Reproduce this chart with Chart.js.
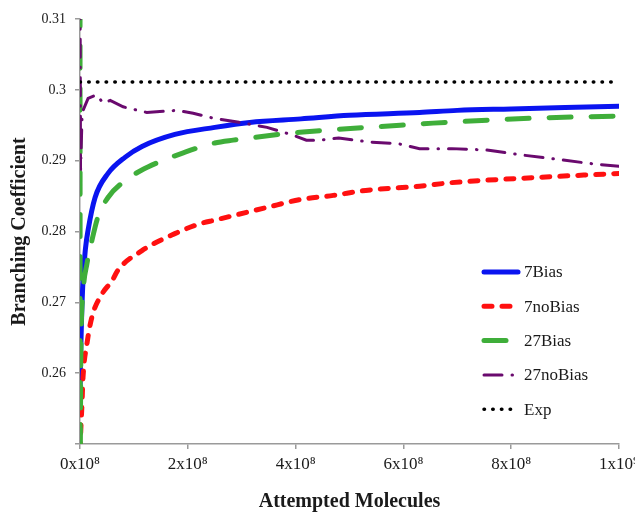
<!DOCTYPE html>
<html>
<head>
<meta charset="utf-8">
<script src="https://cdn.jsdelivr.net/npm/chart.js@4.4.1/dist/chart.umd.min.js"></script>
<style>
  html, body { margin: 0; padding: 0; background: #fff; }
  #wrap { width: 635px; height: 514px; }
</style>
</head>
<body>
<div id="wrap"><canvas id="chart"></canvas></div>
<script>
// Series values; x positions are in units of 1e8 attempted molecules
const labels = ['7Bias', '7noBias', '27Bias', '27noBias', 'Exp'];

const bias7X = [0, 0.01, 0.03, 0.056, 0.1, 0.15, 0.28, 0.52, 0.84, 1.15, 1.76, 2.5, 3.15, 4.1, 5, 6.3, 7, 8, 9, 10];
const bias7Y = [0.2568, 0.262, 0.268, 0.2731, 0.2775, 0.2802, 0.2848, 0.2882, 0.2905, 0.292, 0.2937, 0.2947, 0.2954, 0.2959, 0.2964, 0.2968, 0.2971, 0.2973, 0.2975, 0.2977];

const noBias7X = [0, 0.02, 0.037, 0.056, 0.13, 0.22, 0.41, 0.6, 0.7, 1.15, 1.76, 2.23, 2.5, 3.47, 4.08, 4.7, 5.3, 6.3, 6.9, 8.4, 10];
const noBias7Y = [0.249, 0.2529, 0.2557, 0.2594, 0.2642, 0.2679, 0.2712, 0.2731, 0.2745, 0.2773, 0.2797, 0.2811, 0.2816, 0.2834, 0.2845, 0.2851, 0.2858, 0.2864, 0.2869, 0.2876, 0.2882];

const bias27X = [0, 0.004, 0.015, 0.056, 0.13, 0.22, 0.33, 0.52, 0.84, 1.26, 1.95, 2.5, 2.84, 4.08, 5.94, 6.55, 8.4, 10];
const bias27Y = [0.318, 0.248, 0.262, 0.2712, 0.2755, 0.2787, 0.282, 0.2848, 0.2872, 0.2891, 0.2912, 0.2925, 0.2929, 0.294, 0.295, 0.2953, 0.296, 0.2963];

const noBias27X = [0, 0.01, 0.04, 0.15, 0.31, 0.43, 0.56, 0.8, 1.24, 1.8, 2.1, 2.47, 2.97, 3.47, 3.95, 4.2, 4.45, 4.8, 5.4, 5.9, 6.3, 6.9, 7.55, 8.2, 8.85, 9.46, 10];
const noBias27Y = [0.318, 0.2886, 0.2968, 0.2988, 0.2993, 0.2981, 0.2985, 0.2976, 0.2968, 0.2971, 0.2967, 0.296, 0.2954, 0.2947, 0.2936, 0.2929, 0.2929, 0.2932, 0.2926, 0.2924, 0.2917, 0.2917, 0.2915, 0.2908, 0.2902, 0.2896, 0.2892];

const expX = [0, 10];
const expY = [0.3011, 0.3011];

// y tick values shown on the axis
const yTicks = [0.26, 0.27, 0.28, 0.29, 0.3, 0.31];

function toPoints(xs, ys) {
    return xs.map((x, i) => ({ x: x * 1e8, y: ys[i] }));
}

// Draws the legend box inside the plot, bottom right
const insideLegend = {
    id: 'insideLegend',
    afterDraw(chart) {
        const ctx = chart.ctx;
        ctx.save();
        chart.data.datasets.forEach((ds, i) => {
            const y = 272 + i * 34.3;
            ctx.beginPath();
            ctx.strokeStyle = ds.borderColor;
            ctx.lineWidth = ds.borderWidth;
            ctx.lineCap = 'round';
            ctx.setLineDash(ds.borderDash || []);
            ctx.moveTo(484, y);
            ctx.lineTo(518, y);
            ctx.stroke();
            ctx.setLineDash([]);
            ctx.fillStyle = '#1a1a1a';
            ctx.font = '17px "Liberation Serif", "Times New Roman", serif';
            ctx.textBaseline = 'middle';
            ctx.fillText(ds.label, 524, y + 1);
        });
        ctx.restore();
    }
};

const common = { pointRadius: 0, fill: false, borderCapStyle: 'round' };

const chart = new Chart(document.getElementById('chart'), {
    type: 'line',
    data: {
        datasets: [
            { ...common, label: labels[0], data: toPoints(bias7X, bias7Y), borderColor: '#0a14f0', borderWidth: 5, cubicInterpolationMode: 'monotone', order: 4 },
            { ...common, label: labels[1], data: toPoints(noBias7X, noBias7Y), borderColor: '#ff1010', borderWidth: 5, borderDash: [8, 10], cubicInterpolationMode: 'monotone', order: 3 },
            { ...common, label: labels[2], data: toPoints(bias27X, bias27Y), borderColor: '#3fae3a', borderWidth: 5, borderDash: [22, 20], cubicInterpolationMode: 'monotone', order: 2 },
            { ...common, label: labels[3], data: toPoints(noBias27X, noBias27Y), borderColor: '#6a0a6e', borderWidth: 3, borderDash: [18, 10, 0.5, 10], tension: 0, order: 1 },
            { ...common, label: labels[4], data: toPoints(expX, expY), borderColor: '#000', borderWidth: 3.5, borderDash: [0.5, 8.2], tension: 0, order: 0 }
        ]
    },
    options: {
        responsive: true,
        maintainAspectRatio: false,
        animation: false,
        layout: { padding: { top: 19, right: 16, left: 0, bottom: 0 } },
        plugins: {
            legend: { display: false },
            tooltip: { enabled: false }
        },
        scales: {
            x: {
                type: 'linear',
                min: 0,
                max: 1e9,
                afterBuildTicks: (scale) => {
                    scale.ticks = [0, 2e8, 4e8, 6e8, 8e8, 1e9].map(v => ({ value: v }));
                },
                afterFit: (scale) => {
                    scale.height = 70;
                    scale.paddingLeft = 0;
                    scale.paddingRight = 0;
                },
                grid: { display: true, drawOnChartArea: false, drawTicks: true, tickLength: 5, color: '#9a9a9a', lineWidth: 1.5 },
                border: { color: '#9a9a9a', width: 1.5 },
                ticks: {
                    maxRotation: 0,
                    autoSkip: false,
                    padding: 5,
                    color: '#1a1a1a',
                    font: { family: '"Liberation Serif", "Times New Roman", serif', size: 17 },
                    callback: (v) => v >= 1e9 ? '1x10\u2079' : (v / 1e8) + 'x10\u2078'
                },
                title: {
                    display: true,
                    text: 'Attempted Molecules',
                    color: '#1a1a1a',
                    font: { family: '"Liberation Serif", "Times New Roman", serif', size: 20, weight: 'bold' },
                    padding: { top: 0, bottom: 0 }
                }
            },
            y: {
                min: 0.25,
                max: 0.31,
                afterBuildTicks: (scale) => {
                    scale.ticks = [0.25].concat(yTicks).map(v => ({ value: v }));
                },
                afterFit: (scale) => {
                    scale.width = 80;
                    scale.paddingTop = 0;
                    scale.paddingBottom = 0;
                },
                grid: { display: true, drawOnChartArea: false, drawTicks: true, tickLength: 5, color: '#9a9a9a', lineWidth: 1.5 },
                border: { color: '#9a9a9a', width: 1.5 },
                ticks: {
                    padding: 9,
                    color: '#1a1a1a',
                    font: { family: '"Liberation Serif", "Times New Roman", serif', size: 14 },
                    callback: (v) => v < 0.255 ? '' : String(+v.toFixed(2))
                },
                title: {
                    display: true,
                    text: 'Branching Coefficient',
                    color: '#1a1a1a',
                    font: { family: '"Liberation Serif", "Times New Roman", serif', size: 20, weight: 'bold' },
                    padding: { top: 8, bottom: 0 }
                }
            }
        }
    },
    plugins: [insideLegend]
});
</script>
</body>
</html>
